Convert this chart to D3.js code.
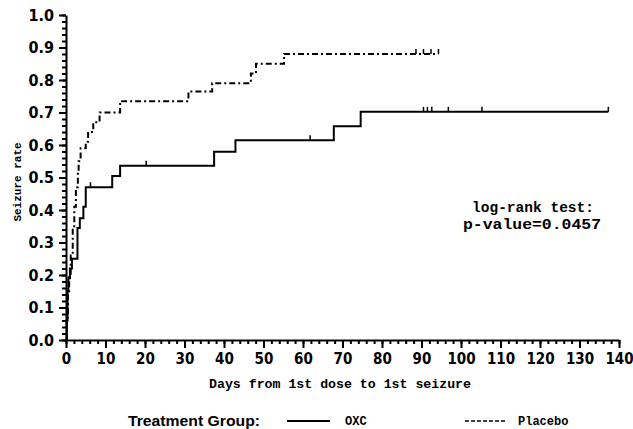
<!DOCTYPE html>
<html>
<head>
<meta charset="utf-8">
<script src="https://cdn.jsdelivr.net/npm/d3@7"></script>
<style>
  body { margin: 0; background: #fff; }
  svg { display: block; }
  .tick text { font-family: "Liberation Sans Narrow", "DejaVu Sans Condensed", sans-serif; font-weight: bold; font-size: 16px; }
  .mono { font-family: "Liberation Mono", "DejaVu Sans Mono", monospace; font-weight: bold; }
</style>
</head>
<body>
<div id="chart"></div>
<script>
// Kaplan-Meier steps: [day, cumulative seizure rate]
var oxcSteps = [
  [0, 0], [0.2, 0.06], [0.4, 0.15], [0.6, 0.19], [1.0, 0.22], [1.5, 0.25],
  [2.9, 0.345], [3.5, 0.375], [4.4, 0.41], [5.0, 0.47], [11.7, 0.505],
  [13.7, 0.536], [37.5, 0.579], [42.9, 0.615], [67.8, 0.658], [74.6, 0.702]
];
var oxcEnd = 137.3;
var oxcCensor = [6.2, 20.3, 61.8, 90.5, 91.5, 92.6, 96.8, 105.3, 137.3];

var placeboSteps = [
  [0, 0], [0.2, 0.07], [0.5, 0.15], [0.8, 0.2], [1.2, 0.26], [1.7, 0.35],
  [2.1, 0.41], [2.5, 0.47], [3.0, 0.52], [3.2, 0.55], [3.7, 0.59],
  [5.0, 0.61], [5.6, 0.64], [6.9, 0.67], [8.5, 0.70], [13.7, 0.735],
  [31.0, 0.765], [37.0, 0.79], [46.8, 0.82], [48.1, 0.85], [55.2, 0.88]
];
var placeboEnd = 94.3;
var placeboCensor = [88.6, 90.5, 92.4, 94.3];

var xTicks = [0, 10, 20, 30, 40, 50, 60, 70, 80, 90, 100, 110, 120, 130, 140];
var yTicks = [0, 0.1, 0.2, 0.3, 0.4, 0.5, 0.6, 0.7, 0.8, 0.9, 1.0];

var width = 633, height = 429;
var svg = d3.select("#chart").append("svg")
    .attr("width", width).attr("height", height);

var x = d3.scaleLinear().domain([0, 140]).range([66, 619]);
var y = d3.scaleLinear().domain([0, 1]).range([340, 15]);

// minor ticks
var xMinor = d3.range(0, 141, 2);
var yMinor = d3.range(0, 1.001, 0.02);

svg.append("g")
    .attr("transform", "translate(0,340)")
    .call(d3.axisBottom(x).tickValues(xMinor).tickSize(4).tickFormat(""))
    .call(g => g.select(".domain").remove())
    .selectAll("line").attr("stroke-width", 2);
svg.append("g")
    .attr("transform", "translate(66,0)")
    .call(d3.axisLeft(y).tickValues(yMinor).tickSize(4).tickFormat(""))
    .call(g => g.select(".domain").remove())
    .selectAll("line").attr("stroke-width", 2);

var xAxis = svg.append("g")
    .attr("transform", "translate(0,340)")
    .call(d3.axisBottom(x).tickValues(xTicks).tickSize(8).tickSizeOuter(0).tickPadding(5));
xAxis.select(".domain").attr("stroke-width", 2);
xAxis.selectAll(".tick line").attr("stroke-width", 2);
xAxis.selectAll(".tick text").attr("fill", "#000").style("font-size", "15px");

var yAxis = svg.append("g")
    .attr("transform", "translate(66,0)")
    .call(d3.axisLeft(y).tickValues(yTicks).tickSize(7).tickSizeOuter(0).tickPadding(5)
      .tickFormat(d3.format(".1f")));
yAxis.select(".domain").attr("stroke-width", 2);
yAxis.selectAll(".tick line").attr("stroke-width", 2);
yAxis.selectAll(".tick text").attr("fill", "#000");

function stepPath(steps, end) {
  var pts = steps.slice();
  pts.push([end, steps[steps.length - 1][1]]);
  return d3.line()
    .x(d => x(d[0]))
    .y(d => y(d[1]))
    .curve(d3.curveStepAfter)(pts);
}

function lastValue(steps, t) {
  var v = 0;
  steps.forEach(function(s) { if (s[0] <= t) v = s[1]; });
  return v;
}

svg.append("path")
    .attr("d", stepPath(oxcSteps, oxcEnd))
    .attr("fill", "none").attr("stroke", "#000").attr("stroke-width", 2);
svg.append("path")
    .attr("d", stepPath(placeboSteps, placeboEnd))
    .attr("fill", "none").attr("stroke", "#000").attr("stroke-width", 2)
    .attr("stroke-dasharray", "6,3,2,3");

function censorMarks(times, steps) {
  svg.append("g").selectAll("line")
    .data(times).enter().append("line")
      .attr("x1", d => x(d)).attr("x2", d => x(d))
      .attr("y1", d => y(lastValue(steps, d)))
      .attr("y2", d => y(lastValue(steps, d)) - 5)
      .attr("stroke", "#000").attr("stroke-width", 1.5);
}
censorMarks(oxcCensor, oxcSteps);
censorMarks(placeboCensor, placeboSteps);

// axis titles
svg.append("text")
    .attr("class", "mono")
    .attr("transform", "translate(21,182) rotate(-90)")
    .attr("text-anchor", "middle")
    .attr("font-size", 11)
    .text("Seizure rate");

svg.append("text")
    .attr("class", "mono")
    .attr("x", 340).attr("y", 388)
    .attr("text-anchor", "middle")
    .attr("font-size", 13)
    .attr("textLength", 262)
    .attr("lengthAdjust", "spacingAndGlyphs")
    .text("Days from 1st dose to 1st seizure");

// log-rank annotation
svg.append("text")
    .attr("class", "mono")
    .attr("x", 533).attr("y", 212)
    .attr("text-anchor", "middle")
    .attr("font-size", 14)
    .attr("textLength", 122)
    .attr("lengthAdjust", "spacingAndGlyphs")
    .text("log-rank test:");
svg.append("text")
    .attr("class", "mono")
    .attr("x", 532).attr("y", 229)
    .attr("text-anchor", "middle")
    .attr("font-size", 14)
    .attr("textLength", 138)
    .attr("lengthAdjust", "spacingAndGlyphs")
    .text("p-value=0.0457");

// legend
var legend = svg.append("g");
legend.append("text")
    .attr("x", 128).attr("y", 426)
    .attr("font-family", "'Liberation Sans Narrow', sans-serif")
    .attr("font-weight", "bold").attr("font-size", 15)
    .attr("textLength", 132)
    .attr("lengthAdjust", "spacingAndGlyphs")
    .text("Treatment Group:");
legend.append("line")
    .attr("x1", 287).attr("x2", 330).attr("y1", 421).attr("y2", 421)
    .attr("stroke", "#000").attr("stroke-width", 2);
legend.append("text")
    .attr("class", "mono")
    .attr("x", 345).attr("y", 425).attr("font-size", 12)
    .text("OXC");
legend.append("line")
    .attr("x1", 465).attr("x2", 505).attr("y1", 421).attr("y2", 421)
    .attr("stroke", "#000").attr("stroke-width", 1.5)
    .attr("stroke-dasharray", "4,2");
legend.append("text")
    .attr("class", "mono")
    .attr("x", 518).attr("y", 425).attr("font-size", 12)
    .text("Placebo");
</script>
</body>
</html>
